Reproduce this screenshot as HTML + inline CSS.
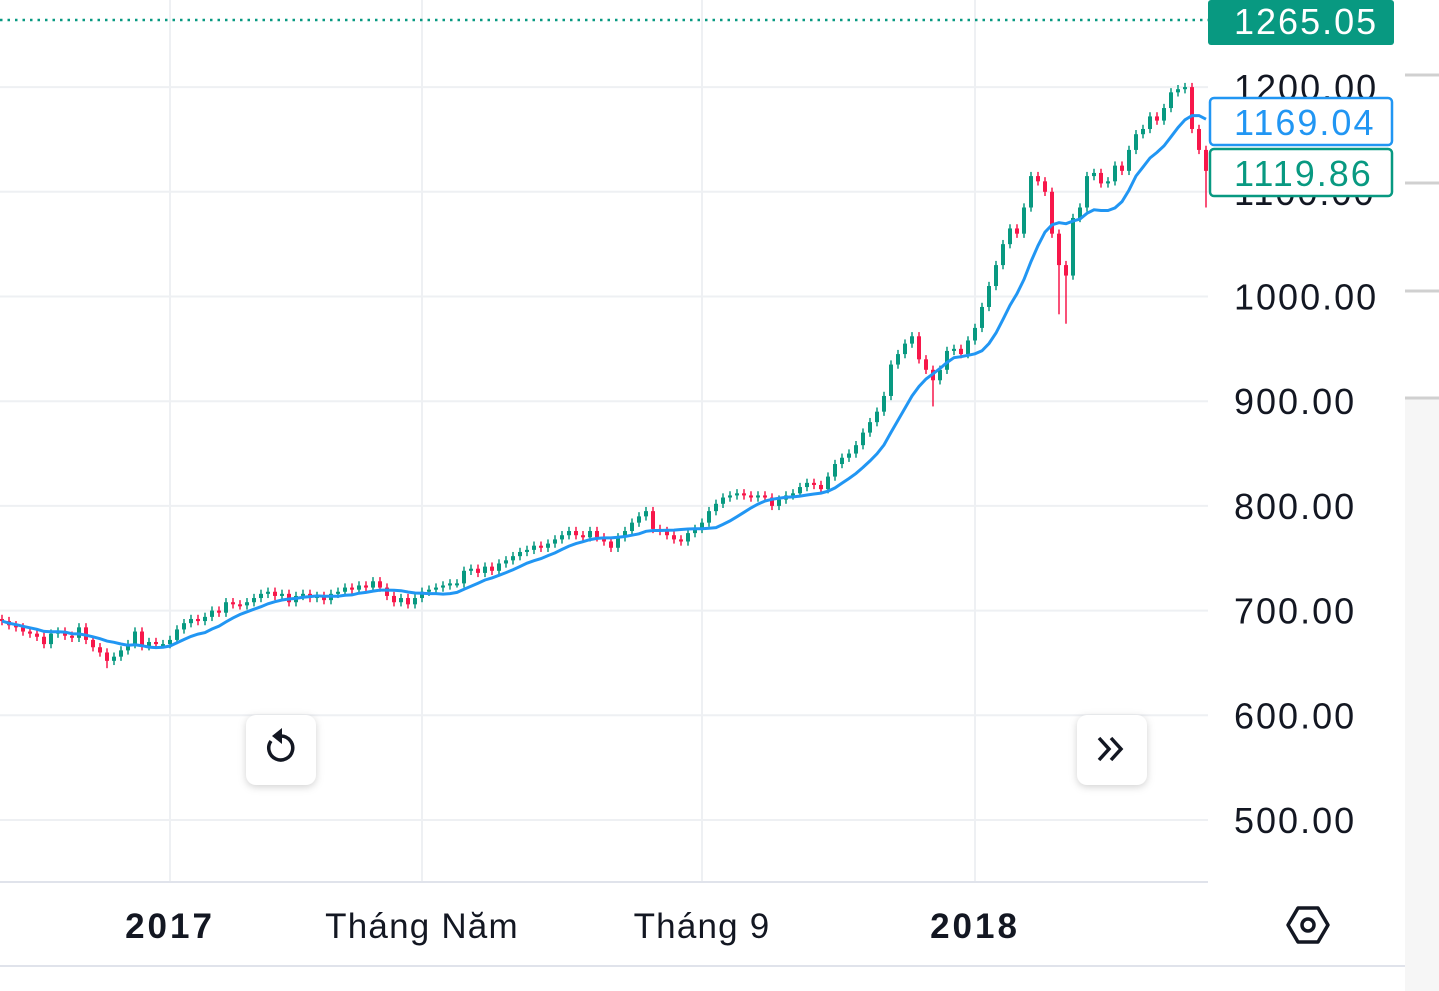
<!DOCTYPE html>
<html><head><meta charset="utf-8"><style>
html,body{margin:0;padding:0;background:#fff;width:1439px;height:991px;overflow:hidden;font-family:"Liberation Sans","Noto Sans CJK SC",sans-serif}
svg{position:absolute;left:0;top:0}
</style></head><body>
<svg id="chart" width="1439" height="991">
<rect x="1405" y="398" width="34" height="593" fill="#f6f6f6"/>
<g id="side" stroke="#d0d0d0" stroke-width="3">
<line x1="1405" y1="75" x2="1439" y2="75"/><line x1="1405" y1="183" x2="1439" y2="183"/><line x1="1405" y1="291" x2="1439" y2="291"/><line x1="1405" y1="398" x2="1439" y2="398"/>
</g>
<g id="grid"></g>
<g id="candles"></g>
<path id="ma" fill="none" stroke="#2196f3" stroke-width="3"/>
<g id="yaxis"></g>
<line x1="0" y1="882" x2="1208" y2="882" stroke="#e0e3eb" stroke-width="2"/>
<line x1="0" y1="966" x2="1405" y2="966" stroke="#e0e3eb" stroke-width="2"/>
<g id="xaxis" font-size="35" fill="#131722" text-anchor="middle"></g>
<g transform="translate(1308,925)">
<polygon points="-20,0 -10,-17 10,-17 20,0 10,17 -10,17" fill="none" stroke="#131722" stroke-width="3.5" stroke-linejoin="round"/>
<circle r="6" fill="none" stroke="#131722" stroke-width="3.5"/>
</g>
<g>
<rect x="246" y="715" width="70" height="70" rx="10" fill="#fff" style="filter:drop-shadow(0 2px 4px rgba(0,0,0,0.18))"/>
<path d="M271 741 A12 12 0 1 0 281 736" fill="none" stroke="#131722" stroke-width="3.5"/>
<polygon points="282,728 282,744 272,736" fill="#131722"/>
</g>
<g>
<rect x="1077" y="715" width="70" height="70" rx="10" fill="#fff" style="filter:drop-shadow(0 2px 4px rgba(0,0,0,0.18))"/>
<path d="M1099 738 L1109 749 L1099 760 M1111 738 L1121 749 L1111 760" fill="none" stroke="#131722" stroke-width="3.5"/>
</g>
<line x1="0" y1="20" x2="1208" y2="20" stroke="#089981" stroke-width="2.5" stroke-dasharray="2.5,5"/>
<g>
<rect x="1208" y="0" width="186" height="45" rx="3" fill="#089981"/>
<text x="1234" y="34" font-size="36" fill="#fff" letter-spacing="2">1265.05</text>
</g>
<g>
<rect x="1210" y="98" width="182" height="47" rx="4" fill="#fff" stroke="#2196f3" stroke-width="2.5"/>
<text x="1234" y="135" font-size="36" fill="#2196f3" letter-spacing="2">1169.04</text>
</g>
<g>
<rect x="1210" y="149" width="182" height="47" rx="4" fill="#fff" stroke="#089981" stroke-width="2.5"/>
<text x="1234" y="186" font-size="36" fill="#089981" letter-spacing="2">1119.86</text>
</g>
</svg>
<script>
const closes=[690,686,684,680,678,675,668,678,680,676,674,684,672,665,660,652,656,662,668,680,666,670,668,668,672,682,688,692,690,694,700,698,708,706,705,708,712,716,718,714,716,708,714,716,712,714,710,716,718,722,720,724,722,728,722,714,708,712,706,712,718,720,722,724,726,726,738,740,736,742,738,745,748,752,756,758,762,760,764,768,772,776,772,770,776,770,766,760,770,776,784,790,795,778,776,772,768,766,774,778,784,795,802,808,810,812,810,808,810,808,800,806,810,812,818,822,820,816,828,840,846,850,858,870,880,890,905,935,945,955,962,940,930,920,930,948,950,945,958,970,990,1010,1030,1050,1065,1060,1085,1115,1110,1100,1060,1030,1020,1075,1085,1115,1118,1108,1110,1125,1120,1140,1155,1160,1172,1168,1180,1195,1198,1200,1160,1140,1120];
const lowSpikes=[[15,645],[133,895],[151,983],[152,974],[172,1085]];
const yTicks=[1200,1100,1000,900,800,700,600,500];
const yTickLabels=["1200.00","1100.00","1000.00","900.00","800.00","700.00","600.00","500.00"];
const xTickIdx=[24,60,100,139];
const xTickLabels=["2017","Tháng Năm","Tháng 9","2018"];
const xTickBold=[true,false,false,true];
const maPeriod=10;

const NS="http://www.w3.org/2000/svg";
const y=v=>820-(v-500)*1.047;
const x=i=>2+i*7;
function mk(t,a,p){const e=document.createElementNS(NS,t);for(const k in a)e.setAttribute(k,a[k]);p.appendChild(e);return e;}
const grid=document.getElementById('grid'),ya=document.getElementById('yaxis'),xa=document.getElementById('xaxis'),cg=document.getElementById('candles');
yTicks.forEach((v,i)=>{
 const l=mk('line',{x1:0,x2:1208,y1:y(v),y2:y(v),stroke:'#eef0f3','stroke-width':2},grid);
 
 
 const t=mk('text',{x:1234,y:y(v)+13,'font-size':36,fill:'#131722','letter-spacing':2},ya);
 t.textContent=yTickLabels[i];
 
 
});
xTickIdx.forEach((idx,i)=>{
 const l=mk('line',{x1:x(idx),x2:x(idx),y1:0,y2:882,stroke:'#eef0f3','stroke-width':2},grid);
 
 
 const t=mk('text',{x:x(idx),y:938,'font-weight':xTickBold[i]?'bold':'normal','letter-spacing':xTickBold[i]?3:1.2},xa);
 t.textContent=xTickLabels[i];
 
 
});
closes.forEach((c,i)=>{
 const o=i?closes[i-1]:c+2;
 const up=c>=o, col=up?'#089981':'#f7174a';
 let hi=Math.max(o,c)+4, lo=Math.min(o,c)-4;
 lowSpikes.forEach(s=>{if(s[0]===i)lo=s[1];});
 const w=mk('line',{x1:x(i),x2:x(i),y1:y(hi),y2:y(lo),stroke:col,'stroke-width':1.5},cg);
 
 
 const top=y(Math.max(o,c)),h=Math.max(2,y(Math.min(o,c))-top);
 const b=mk('rect',{x:x(i)-2,y:top,width:4,height:h,fill:col},cg);
 
 
});
let d='';
closes.forEach((c,i)=>{
 const s=closes.slice(Math.max(0,i-maPeriod+1),i+1);
 const m=s.reduce((a,b)=>a+b,0)/s.length;
 d+=(i?'L':'M')+x(i)+' '+y(m).toFixed(1)+' ';
});
document.getElementById('ma').setAttribute('d',d);
</script>
</body></html>
